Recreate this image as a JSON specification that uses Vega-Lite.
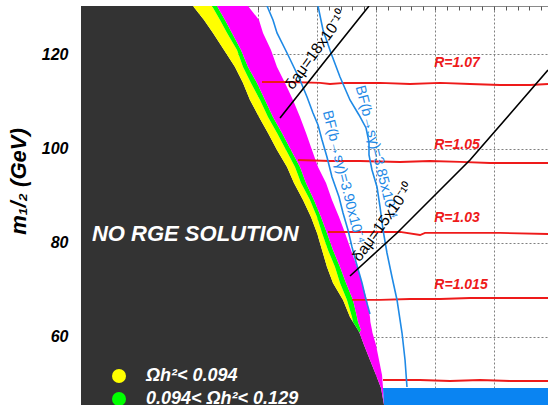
{
  "$schema": "https://vega.github.io/schema/vega-lite/v6.json",
  "width": 467,
  "height": 399,
  "autosize": {"type": "none"},
  "padding": {"left": 81, "top": 6, "right": 0, "bottom": 0},
  "background": "white",
  "view": {"stroke": "#8a8a8a", "strokeWidth": 1},
  "config": {"font": "Liberation Sans"},
  "datasets": {
    "bands": [
      {"m12": 130.30, "b1": 189.8, "b2": 222.0, "b3": 230.5, "b4": 283.1},
      {"m12": 127.33, "b1": 208.5, "b2": 235.6, "b3": 244.1, "b4": 301.7},
      {"m12": 124.57, "b1": 223.7, "b2": 247.5, "b3": 255.9, "b4": 308.5},
      {"m12": 120.96, "b1": 242.4, "b2": 264.4, "b3": 271.2, "b4": 322.0},
      {"m12": 117.35, "b1": 261.0, "b2": 274.6, "b3": 283.1, "b4": 332.2},
      {"m12": 113.95, "b1": 274.6, "b2": 288.1, "b3": 298.3, "b4": 345.8},
      {"m12": 110.34, "b1": 286.4, "b2": 303.4, "b3": 311.9, "b4": 359.3},
      {"m12": 106.72, "b1": 301.7, "b2": 316.9, "b3": 325.4, "b4": 371.2},
      {"m12": 103.33, "b1": 316.9, "b2": 332.2, "b3": 340.7, "b4": 381.4},
      {"m12": 99.72, "b1": 332.2, "b2": 347.5, "b3": 355.9, "b4": 391.5},
      {"m12": 96.10, "b1": 349.2, "b2": 362.7, "b3": 371.2, "b4": 401.7},
      {"m12": 92.71, "b1": 361.0, "b2": 372.9, "b3": 381.4, "b4": 415.3},
      {"m12": 89.10, "b1": 376.3, "b2": 388.1, "b3": 394.9, "b4": 425.4},
      {"m12": 85.48, "b1": 389.8, "b2": 400.0, "b3": 406.8, "b4": 437.3},
      {"m12": 82.09, "b1": 400.0, "b2": 408.5, "b3": 416.9, "b4": 447.5},
      {"m12": 78.48, "b1": 408.5, "b2": 418.6, "b3": 427.1, "b4": 457.6},
      {"m12": 74.86, "b1": 416.9, "b2": 430.5, "b3": 439.0, "b4": 467.8},
      {"m12": 71.47, "b1": 427.1, "b2": 439.0, "b3": 449.2, "b4": 476.3},
      {"m12": 67.86, "b1": 444.1, "b2": 450.8, "b3": 461.0, "b4": 484.7},
      {"m12": 64.24, "b1": 455.9, "b2": 459.3, "b3": 467.8, "b4": 489.8},
      {"m12": 63.18, "b1": 461.0, "b2": 461.0, "b3": 469.5, "b4": 490.5},
      {"m12": 61.48, "b1": 469.5, "b2": 469.5, "b3": 474.6, "b4": 493.2},
      {"m12": 60.90, "b1": 472.0, "b2": 472.0, "b3": 472.0, "b4": 494.0},
      {"m12": 58.30, "b1": 479.7, "b2": 479.7, "b3": 479.7, "b4": 500.0},
      {"m12": 55.11, "b1": 489.8, "b2": 489.8, "b3": 489.8, "b4": 505.1},
      {"m12": 51.92, "b1": 500.0, "b2": 500.0, "b3": 500.0, "b4": 510.2},
      {"m12": 49.16, "b1": 508.5, "b2": 508.5, "b3": 508.5, "b4": 511.9},
      {"m12": 45.55, "b1": 513.6, "b2": 513.6, "b3": 513.6, "b4": 513.6}
    ],
    "blue": [
      {"m12": 49.16, "lo": 511.9, "hi": 791.5},
      {"m12": 45.55, "lo": 513.6, "hi": 791.5}
    ],
    "curves": [
      {"curve": "bf390", "kind": "blue", "m0": 315.3, "m12": 130.30},
      {"curve": "bf390", "kind": "blue", "m0": 325.4, "m12": 127.33},
      {"curve": "bf390", "kind": "blue", "m0": 332.2, "m12": 124.57},
      {"curve": "bf390", "kind": "blue", "m0": 349.2, "m12": 120.32},
      {"curve": "bf390", "kind": "blue", "m0": 371.2, "m12": 114.58},
      {"curve": "bf390", "kind": "blue", "m0": 383.1, "m12": 110.97},
      {"curve": "bf390", "kind": "blue", "m0": 393.2, "m12": 107.57},
      {"curve": "bf390", "kind": "blue", "m0": 401.7, "m12": 105.03},
      {"curve": "bf390", "kind": "blue", "m0": 408.5, "m12": 101.84},
      {"curve": "bf390", "kind": "blue", "m0": 416.9, "m12": 98.23},
      {"curve": "bf390", "kind": "blue", "m0": 425.4, "m12": 93.98},
      {"curve": "bf390", "kind": "blue", "m0": 437.3, "m12": 89.73},
      {"curve": "bf390", "kind": "blue", "m0": 444.1, "m12": 86.33},
      {"curve": "bf390", "kind": "blue", "m0": 452.5, "m12": 82.72},
      {"curve": "bf390", "kind": "blue", "m0": 459.3, "m12": 79.11},
      {"curve": "bf390", "kind": "blue", "m0": 466.1, "m12": 75.93},
      {"curve": "bf390", "kind": "blue", "m0": 476.3, "m12": 71.47},
      {"curve": "bf390", "kind": "blue", "m0": 483.1, "m12": 67.86},
      {"curve": "bf390", "kind": "blue", "m0": 489.8, "m12": 64.88},
      {"curve": "bf385", "kind": "blue", "m0": 401.7, "m12": 130.30},
      {"curve": "bf385", "kind": "blue", "m0": 410.2, "m12": 125.20},
      {"curve": "bf385", "kind": "blue", "m0": 423.7, "m12": 120.32},
      {"curve": "bf385", "kind": "blue", "m0": 439.0, "m12": 115.22},
      {"curve": "bf385", "kind": "blue", "m0": 455.9, "m12": 110.34},
      {"curve": "bf385", "kind": "blue", "m0": 471.2, "m12": 107.15},
      {"curve": "bf385", "kind": "blue", "m0": 483.1, "m12": 104.39},
      {"curve": "bf385", "kind": "blue", "m0": 488.1, "m12": 101.41},
      {"curve": "bf385", "kind": "blue", "m0": 488.1, "m12": 98.65},
      {"curve": "bf385", "kind": "blue", "m0": 493.2, "m12": 95.47},
      {"curve": "bf385", "kind": "blue", "m0": 501.7, "m12": 91.86},
      {"curve": "bf385", "kind": "blue", "m0": 506.8, "m12": 87.61},
      {"curve": "bf385", "kind": "blue", "m0": 511.9, "m12": 82.72},
      {"curve": "bf385", "kind": "blue", "m0": 518.6, "m12": 77.84},
      {"curve": "bf385", "kind": "blue", "m0": 527.1, "m12": 72.74},
      {"curve": "bf385", "kind": "blue", "m0": 535.6, "m12": 67.86},
      {"curve": "bf385", "kind": "blue", "m0": 544.1, "m12": 60.84},
      {"curve": "bf385", "kind": "blue", "m0": 549.2, "m12": 55.11},
      {"curve": "bf385", "kind": "blue", "m0": 552.5, "m12": 49.38},
      {"curve": "da18", "kind": "black", "m0": 337.3, "m12": 106.51},
      {"curve": "da18", "kind": "black", "m0": 413.6, "m12": 118.62},
      {"curve": "da18", "kind": "black", "m0": 488.1, "m12": 130.30},
      {"curve": "da15", "kind": "black", "m0": 455.9, "m12": 72.95},
      {"curve": "da15", "kind": "black", "m0": 535.6, "m12": 82.09},
      {"curve": "da15", "kind": "black", "m0": 591.5, "m12": 89.10},
      {"curve": "da15", "kind": "black", "m0": 659.3, "m12": 97.59},
      {"curve": "da15", "kind": "black", "m0": 727.1, "m12": 107.36},
      {"curve": "da15", "kind": "black", "m0": 791.5, "m12": 116.71},
      {"curve": "r107", "kind": "red", "m0": 306.8, "m12": 114.16},
      {"curve": "r107", "kind": "red", "m0": 354.2, "m12": 114.16},
      {"curve": "r107", "kind": "red", "m0": 405.1, "m12": 113.95},
      {"curve": "r107", "kind": "red", "m0": 422.0, "m12": 113.73},
      {"curve": "r107", "kind": "red", "m0": 447.5, "m12": 113.95},
      {"curve": "r107", "kind": "red", "m0": 506.8, "m12": 113.95},
      {"curve": "r107", "kind": "red", "m0": 557.6, "m12": 113.73},
      {"curve": "r107", "kind": "red", "m0": 608.5, "m12": 113.95},
      {"curve": "r107", "kind": "red", "m0": 659.3, "m12": 113.73},
      {"curve": "r107", "kind": "red", "m0": 710.2, "m12": 113.52},
      {"curve": "r107", "kind": "red", "m0": 761.0, "m12": 113.52},
      {"curve": "r107", "kind": "red", "m0": 791.5, "m12": 113.73},
      {"curve": "r105", "kind": "red", "m0": 367.8, "m12": 97.59},
      {"curve": "r105", "kind": "red", "m0": 422.0, "m12": 97.38},
      {"curve": "r105", "kind": "red", "m0": 472.9, "m12": 97.38},
      {"curve": "r105", "kind": "red", "m0": 540.7, "m12": 97.17},
      {"curve": "r105", "kind": "red", "m0": 591.5, "m12": 97.38},
      {"curve": "r105", "kind": "red", "m0": 642.4, "m12": 97.17},
      {"curve": "r105", "kind": "red", "m0": 693.2, "m12": 96.95},
      {"curve": "r105", "kind": "red", "m0": 744.1, "m12": 96.95},
      {"curve": "r105", "kind": "red", "m0": 791.5, "m12": 96.95},
      {"curve": "r103", "kind": "red", "m0": 418.6, "m12": 82.30},
      {"curve": "r103", "kind": "red", "m0": 472.9, "m12": 82.30},
      {"curve": "r103", "kind": "red", "m0": 540.7, "m12": 82.30},
      {"curve": "r103", "kind": "red", "m0": 574.6, "m12": 81.66},
      {"curve": "r103", "kind": "red", "m0": 583.1, "m12": 82.09},
      {"curve": "r103", "kind": "red", "m0": 642.4, "m12": 82.09},
      {"curve": "r103", "kind": "red", "m0": 710.2, "m12": 82.09},
      {"curve": "r103", "kind": "red", "m0": 791.5, "m12": 81.87},
      {"curve": "r1015", "kind": "red", "m0": 459.3, "m12": 67.86},
      {"curve": "r1015", "kind": "red", "m0": 506.8, "m12": 67.86},
      {"curve": "r1015", "kind": "red", "m0": 557.6, "m12": 68.07},
      {"curve": "r1015", "kind": "red", "m0": 608.5, "m12": 68.07},
      {"curve": "r1015", "kind": "red", "m0": 659.3, "m12": 68.28},
      {"curve": "r1015", "kind": "red", "m0": 710.2, "m12": 68.28},
      {"curve": "r1015", "kind": "red", "m0": 791.5, "m12": 68.28},
      {"curve": "rlow", "kind": "red", "m0": 511.9, "m12": 50.86},
      {"curve": "rlow", "kind": "red", "m0": 574.6, "m12": 50.86},
      {"curve": "rlow", "kind": "red", "m0": 625.4, "m12": 50.65},
      {"curve": "rlow", "kind": "red", "m0": 676.3, "m12": 50.86},
      {"curve": "rlow", "kind": "red", "m0": 727.1, "m12": 50.65},
      {"curve": "rlow", "kind": "red", "m0": 791.5, "m12": 50.65}
    ]
  },
  "resolve": {"axis": {"x": "independent"}},
  "layer": [
    {
      "data": {"name": "bands"},
      "mark": {"type": "area", "orient": "horizontal", "color": "#333333", "clip": true},
      "encoding": {
        "y": {"field": "m12", "type": "quantitative", "scale": {"domain": [45.55, 130.3], "nice": false, "zero": false},
          "axis": {"orient": "left", "values": [60, 80, 100, 120], "grid": true, "gridDash": [2, 2], "gridColor": "#808080",
            "ticks": false, "domain": false, "labelFont": "Liberation Sans", "labelFontSize": 16, "labelFontWeight": "bold",
            "labelFontStyle": "italic", "labelColor": "#000000", "labelPadding": 13,
            "title": "m₁/₂ (GeV)", "titleFont": "Liberation Sans", "titleFontSize": 22, "titleFontWeight": "bold",
            "titleFontStyle": "italic", "titleColor": "#000000", "titleX": -56, "titleY": 175, "titleBaseline": "alphabetic"}},
        "x": {"field": "b1", "type": "quantitative", "stack": null, "scale": {"domain": [0, 791.5], "nice": false, "zero": false},
          "axis": {"orient": "bottom", "values": [100, 200, 300, 400, 500, 600, 700], "grid": true, "gridDash": [2, 2],
            "gridColor": "#808080", "labels": false, "ticks": false, "domain": false, "title": null}}
      }
    },
    {
      "data": {"name": "bands"},
      "mark": {"type": "area", "orient": "horizontal", "clip": true},
      "encoding": {
        "y": {"field": "m12", "type": "quantitative", "scale": {"domain": [45.55, 130.3], "nice": false, "zero": false}},
        "x": {"field": "b1", "type": "quantitative", "scale": {"domain": [0, 791.5], "nice": false, "zero": false},
          "axis": {"orient": "top", "values": [20, 40, 60, 80, 100, 120, 140, 160, 180, 200, 220, 240, 260, 280, 300, 320, 340, 360, 380, 400, 420, 440, 460, 480, 500, 520, 540, 560, 580, 600, 620, 640, 660, 680, 700, 720, 740, 760, 780],
            "ticks": true, "tickSize": -4, "tickColor": "#555555", "labels": false, "domain": false, "grid": false, "title": null}},
        "x2": {"field": "b2"},
        "fill": {"datum": "Ωh²<  0.094", "type": "nominal",
          "scale": {"domain": ["Ωh²<  0.094", "0.094< Ωh²<  0.129"], "range": ["#ffff00", "#00ff00"]},
          "legend": {"orient": "none", "legendX": 29, "legendY": 361, "title": null, "symbolType": "circle", "symbolSize": 196,
            "symbolStrokeWidth": 0, "labelFont": "Liberation Sans", "labelFontSize": 18, "labelFontWeight": "bold",
            "labelFontStyle": "italic", "labelColor": "#ffffff", "labelOffset": 18, "rowPadding": 5, "padding": 0, "labelLimit": 300}}
      }
    },
    {
      "data": {"name": "bands"},
      "mark": {"type": "area", "orient": "horizontal", "clip": true},
      "encoding": {
        "y": {"field": "m12", "type": "quantitative", "scale": {"domain": [45.55, 130.3], "nice": false, "zero": false}},
        "x": {"field": "b2", "type": "quantitative", "scale": {"domain": [0, 791.5], "nice": false, "zero": false}, "axis": null},
        "x2": {"field": "b3"},
        "fill": {"datum": "0.094< Ωh²<  0.129", "type": "nominal"}
      }
    },
    {
      "data": {"name": "bands"},
      "mark": {"type": "area", "orient": "horizontal", "color": "#ff00ff", "clip": true},
      "encoding": {
        "y": {"field": "m12", "type": "quantitative", "scale": {"domain": [45.55, 130.3], "nice": false, "zero": false}},
        "x": {"field": "b3", "type": "quantitative", "scale": {"domain": [0, 791.5], "nice": false, "zero": false}, "axis": null},
        "x2": {"field": "b4"}
      }
    },
    {
      "data": {"name": "blue"},
      "mark": {"type": "area", "orient": "horizontal", "color": "#0a84f2", "clip": true},
      "encoding": {
        "y": {"field": "m12", "type": "quantitative", "scale": {"domain": [45.55, 130.3], "nice": false, "zero": false}},
        "x": {"field": "lo", "type": "quantitative", "scale": {"domain": [0, 791.5], "nice": false, "zero": false}, "axis": null},
        "x2": {"field": "hi"}
      }
    },
    {
      "data": {"name": "curves"},
      "transform": [{"filter": "datum.kind === 'red'"}],
      "mark": {"type": "line", "color": "#ee1a1a", "strokeWidth": 1.8, "clip": true},
      "encoding": {
        "y": {"field": "m12", "type": "quantitative", "scale": {"domain": [45.55, 130.3], "nice": false, "zero": false}},
        "x": {"field": "m0", "type": "quantitative", "scale": {"domain": [0, 791.5], "nice": false, "zero": false}, "axis": null},
        "detail": {"field": "curve"},
        "order": {"value": null}
      }
    },
    {
      "data": {"name": "curves"},
      "transform": [{"filter": "datum.kind === 'blue'"}],
      "mark": {"type": "line", "color": "#1f8ae6", "strokeWidth": 1.6, "clip": true},
      "encoding": {
        "y": {"field": "m12", "type": "quantitative", "scale": {"domain": [45.55, 130.3], "nice": false, "zero": false}},
        "x": {"field": "m0", "type": "quantitative", "scale": {"domain": [0, 791.5], "nice": false, "zero": false}, "axis": null},
        "detail": {"field": "curve"},
        "order": {"value": null}
      }
    },
    {
      "data": {"name": "curves"},
      "transform": [{"filter": "datum.kind === 'black'"}],
      "mark": {"type": "line", "color": "#000000", "strokeWidth": 1.6, "clip": true},
      "encoding": {
        "y": {"field": "m12", "type": "quantitative", "scale": {"domain": [45.55, 130.3], "nice": false, "zero": false}},
        "x": {"field": "m0", "type": "quantitative", "scale": {"domain": [0, 791.5], "nice": false, "zero": false}, "axis": null},
        "detail": {"field": "curve"},
        "order": {"value": null}
      }
    },
    {
      "data": {"values": [{"label": "NO RGE SOLUTION", "m0": 18.6, "m12": 81.87}]},
      "mark": {"type": "text", "align": "left", "baseline": "middle", "font": "Liberation Sans", "fontSize": 22, "fontWeight": "bold", "fontStyle": "italic", "color": "#ffffff"},
      "encoding": {
        "y": {"field": "m12", "type": "quantitative", "scale": {"domain": [45.55, 130.3], "nice": false, "zero": false}},
        "x": {"field": "m0", "type": "quantitative", "scale": {"domain": [0, 791.5], "nice": false, "zero": false}, "axis": null},
        "text": {"field": "label"}
      }
    },
    {
      "data": {"values": [
        {"label": "R=1.07", "m0": 637.3, "m12": 118.19},
        {"label": "R=1.05", "m0": 637.3, "m12": 100.78},
        {"label": "R=1.03", "m0": 637.3, "m12": 85.27},
        {"label": "R=1.015", "m0": 644.1, "m12": 71.04}
      ]},
      "mark": {"type": "text", "align": "center", "baseline": "middle", "font": "Liberation Sans", "fontSize": 14, "fontWeight": "bold", "fontStyle": "italic", "color": "#ee1a1a"},
      "encoding": {
        "y": {"field": "m12", "type": "quantitative", "scale": {"domain": [45.55, 130.3], "nice": false, "zero": false}},
        "x": {"field": "m0", "type": "quantitative", "scale": {"domain": [0, 791.5], "nice": false, "zero": false}, "axis": null},
        "text": {"field": "label"}
      }
    },
    {
      "data": {"values": [
        {"label": "BF(b→sγ)=3.90x10⁻⁴", "m0": 444.1, "m12": 93.98},
        {"label": "BF(b→sγ)=3.85x10⁻⁴", "m0": 500.0, "m12": 99.29}
      ]},
      "mark": {"type": "text", "align": "center", "baseline": "middle", "angle": 76, "font": "Liberation Sans", "fontSize": 14.5, "color": "#1f8ae6"},
      "encoding": {
        "y": {"field": "m12", "type": "quantitative", "scale": {"domain": [45.55, 130.3], "nice": false, "zero": false}},
        "x": {"field": "m0", "type": "quantitative", "scale": {"domain": [0, 791.5], "nice": false, "zero": false}, "axis": null},
        "text": {"field": "label"}
      }
    },
    {
      "data": {"values": [
        {"label": "δaμ=18x10⁻¹⁰", "m0": 398.3, "m12": 120.96},
        {"label": "δaμ=15x10⁻¹⁰", "m0": 511.9, "m12": 84.42}
      ]},
      "mark": {"type": "text", "align": "center", "baseline": "middle", "angle": -54, "font": "Liberation Sans", "fontSize": 15.5, "color": "#000000"},
      "encoding": {
        "y": {"field": "m12", "type": "quantitative", "scale": {"domain": [45.55, 130.3], "nice": false, "zero": false}},
        "x": {"field": "m0", "type": "quantitative", "scale": {"domain": [0, 791.5], "nice": false, "zero": false}, "axis": null},
        "text": {"field": "label"}
      }
    }
  ]
}
